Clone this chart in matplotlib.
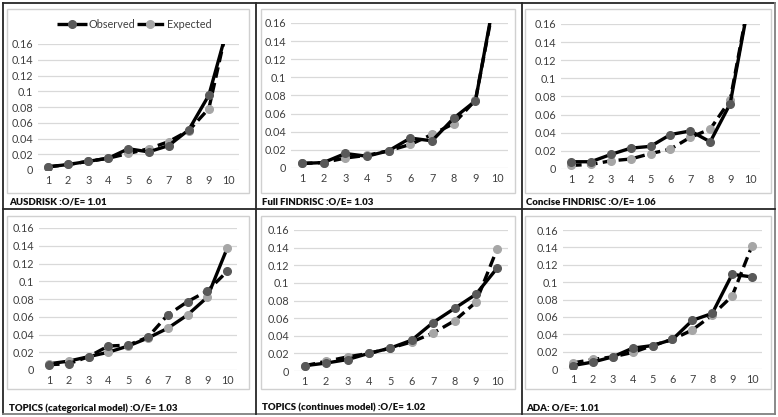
import matplotlib
matplotlib.use("Agg")
import matplotlib.pyplot as plt
from matplotlib.lines import Line2D
from matplotlib.patches import Rectangle

W, H = 778, 417
DPI = 100

deciles = [1, 2, 3, 4, 5, 6, 7, 8, 9, 10]
yticks = [0, 0.02, 0.04, 0.06, 0.08, 0.1, 0.12, 0.14, 0.16]
ytick_labels = ["0", "0.02", "0.04", "0.06", "0.08", "0.1", "0.12", "0.14", "0.16"]

titles = [
    "AUSDRISK :O/E= 1.01",
    "Full FINDRISC :O/E= 1.03",
    "Concise FINDRISC :O/E= 1.06",
    "TOPICS (categorical model) :O/E= 1.03",
    "TOPICS (continues model) :O/E= 1.02",
    "ADA: O/E=: 1.01",
]
legend_labels = ["Observed", "Expected"]

obs_ausdrisk = [0.004, 0.007, 0.011, 0.015, 0.027, 0.023, 0.031, 0.051, 0.095, 0.187]
exp_ausdrisk = [0.004, 0.007, 0.011, 0.015, 0.021, 0.027, 0.036, 0.050, 0.078, 0.192]

obs_full = [0.005, 0.006, 0.016, 0.013, 0.019, 0.033, 0.030, 0.055, 0.074, 0.204]
exp_full = [0.005, 0.006, 0.011, 0.014, 0.019, 0.026, 0.037, 0.049, 0.075, 0.200]

obs_concise = [0.008, 0.008, 0.016, 0.023, 0.025, 0.038, 0.042, 0.030, 0.072, 0.191]
exp_concise = [0.004, 0.005, 0.009, 0.011, 0.017, 0.022, 0.035, 0.044, 0.076, 0.193]

obs_topics_cat = [0.006, 0.007, 0.015, 0.027, 0.028, 0.037, 0.062, 0.077, 0.089, 0.111]
exp_topics_cat = [0.007, 0.010, 0.015, 0.020, 0.027, 0.036, 0.047, 0.062, 0.082, 0.137]

obs_topics_cont = [0.006, 0.009, 0.013, 0.020, 0.026, 0.035, 0.055, 0.071, 0.087, 0.117]
exp_topics_cont = [0.006, 0.011, 0.016, 0.020, 0.026, 0.033, 0.043, 0.057, 0.078, 0.139]

obs_ada = [0.004, 0.008, 0.014, 0.024, 0.027, 0.034, 0.056, 0.064, 0.109, 0.106]
exp_ada = [0.007, 0.011, 0.014, 0.019, 0.027, 0.034, 0.045, 0.062, 0.084, 0.142]

observed = [obs_ausdrisk, obs_full, obs_concise, obs_topics_cat, obs_topics_cont, obs_ada]
expected = [exp_ausdrisk, exp_full, exp_concise, exp_topics_cat, exp_topics_cont, exp_ada]
# in the TOPICS categorical panel the line styles are swapped in the original
swap_style = [False, False, False, True, False, False]

# layout in pixels: (plot left, plot right, y of 0, y of 0.16)
plot_px = [
    (38, 239, 170, 44),
    (291, 508, 168, 23),
    (561, 760, 169, 24),
    (39, 237, 370, 228),
    (294, 508, 371, 230),
    (563, 762, 369, 230),
]
# chart-area boxes (x0, y0, x1, y1)
chart_px = [
    (7, 9, 249, 193),
    (261, 9, 515, 193),
    (525, 9, 771, 193),
    (7, 216, 249, 389),
    (261, 216, 515, 389),
    (525, 216, 771, 389),
]
label_px = [(9, 202), (262, 202), (526, 202), (9, 408), (262, 408), (526, 408)]

OBS_MARK = "#595959"
EXP_MARK = "#a6a6a6"
FONT = ["Lato", "DejaVu Sans"]
LW = 2.4
MS = 5.5
DASH = (3.2, 1.6)

fig = plt.figure(figsize=(W / DPI, H / DPI), dpi=DPI)
fig.patch.set_facecolor("white")


def fx(x):
    return x / W


def fy(y):
    return 1 - y / H


def fig_line(x0, y0, x1, y1, color="#262626", lw=1.3, **kw):
    ln = Line2D([fx(x0), fx(x1)], [fy(y0), fy(y1)], color=color, lw=lw,
                transform=fig.transFigure, **kw)
    fig.add_artist(ln)
    return ln


# outer grid lines
fig_line(2.5, 2.5, 775, 2.5)
fig_line(2.5, 2.5, 2.5, 414)
fig_line(2.5, 414, 775, 414, color="#808080")
fig_line(775, 2.5, 775, 414, color="#808080")
fig_line(2.5, 208.5, 775, 208.5)
fig_line(255.5, 2.5, 255.5, 414)
fig_line(521.5, 2.5, 521.5, 414)

for i in range(6):
    cx0, cy0, cx1, cy1 = chart_px[i]
    fig.add_artist(Rectangle((fx(cx0), fy(cy1)), fx(cx1 - cx0), (cy1 - cy0) / H,
                             transform=fig.transFigure, fill=False,
                             edgecolor="#d0d0d0", lw=1.0))

    l, r, yb, yt = plot_px[i]
    ax = fig.add_axes([fx(l), fy(yb), fx(r - l), (yb - yt) / H])
    ax.set_xlim(0.5, 10.5)
    ax.set_ylim(0, 0.16)
    for s in ax.spines.values():
        s.set_visible(False)
    ax.set_yticks(yticks)
    ax.set_yticklabels(ytick_labels)
    ax.set_xticks(deciles)
    ax.set_xticklabels([str(d) for d in deciles])
    ax.tick_params(length=0, labelsize=7.8, labelcolor="#404040", pad=3.5)
    for lab in ax.get_xticklabels() + ax.get_yticklabels():
        lab.set_family(FONT)
    ax.grid(axis="y", color="#d9d9d9", lw=0.9)
    ax.set_axisbelow(True)

    obs_ls = "--" if swap_style[i] else "-"
    exp_ls = "-" if swap_style[i] else "--"
    ax.plot(deciles, expected[i], color="black", lw=LW, ls=exp_ls,
            dashes=DASH if exp_ls == "--" else (None, None),
            marker="o", ms=MS, mfc=EXP_MARK, mec=EXP_MARK, zorder=3)
    ax.plot(deciles, observed[i], color="black", lw=LW, ls=obs_ls,
            dashes=DASH if obs_ls == "--" else (None, None),
            marker="o", ms=MS, mfc=OBS_MARK, mec=OBS_MARK, zorder=4)

    lx, ly = label_px[i]
    fig.text(fx(lx), fy(ly), titles[i], ha="left", va="center", fontsize=6.9,
             fontweight="heavy", family=FONT, color="#111111")

# legend of the first panel, drawn by hand
ly = 24
fig_line(57, ly, 87, ly, color="black", lw=LW, solid_capstyle="butt")
fig.add_artist(Line2D([fx(72)], [fy(ly)], marker="o", ms=MS, mfc=OBS_MARK,
                      mec=OBS_MARK, transform=fig.transFigure))
fig.text(fx(88.5), fy(ly), legend_labels[0], ha="left", va="center",
         fontsize=7.8, family=FONT, color="#404040")
fig_line(137, ly, 164, ly, color="black", lw=LW, ls="--", dashes=DASH)
fig.add_artist(Line2D([fx(150)], [fy(ly)], marker="o", ms=MS, mfc=EXP_MARK,
                      mec=EXP_MARK, transform=fig.transFigure))
fig.text(fx(167), fy(ly), legend_labels[1], ha="left", va="center",
         fontsize=7.8, family=FONT, color="#404040")

fig.savefig("out.png", dpi=DPI)
